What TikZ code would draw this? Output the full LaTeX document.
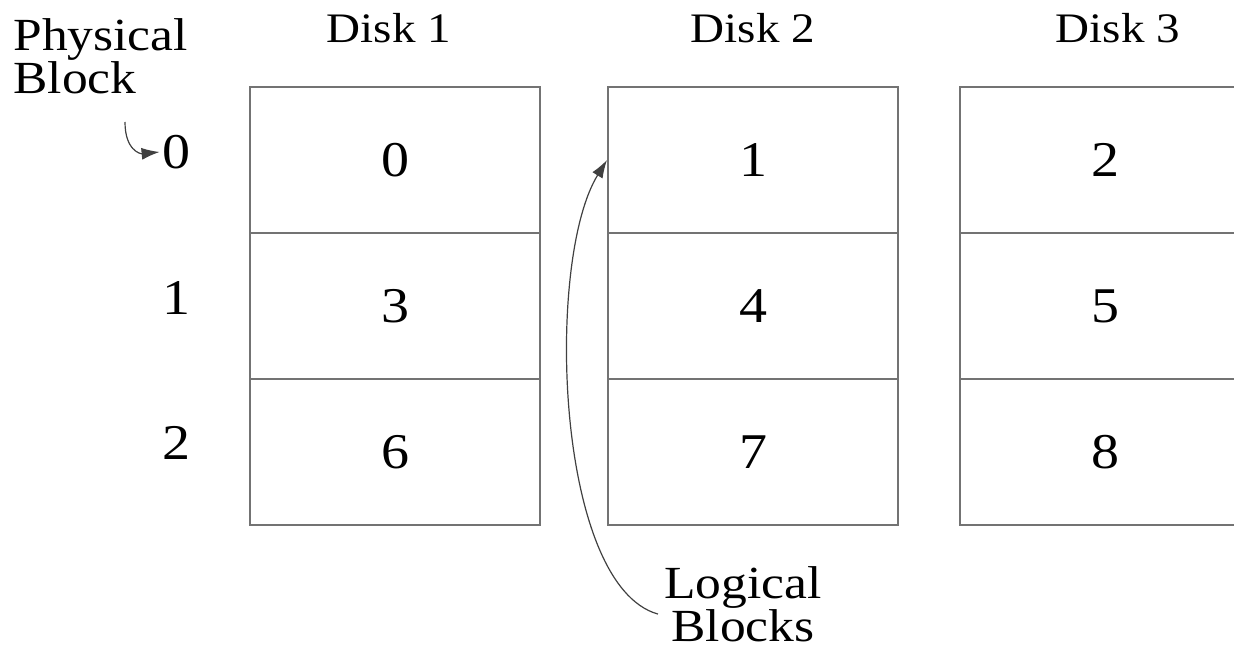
\documentclass[tikz,border=0pt]{standalone}
\usepackage{fontspec}
\setmainfont[FakeStretch=1.12]{Liberation Serif}
\usetikzlibrary{arrows.meta}

\tikzset{
    cell/.style={draw=gray!90!black, line width=1pt, minimum width=145pt, minimum height=73pt, inner sep=0pt, font=\fontsize{25}{30}\selectfont},
    disklabel/.style={anchor=base, font=\fontsize{21}{25}\selectfont},
    rowlabel/.style={inner sep=1pt, font=\fontsize{25}{30}\selectfont},
    note/.style={inner sep=0pt, font=\fontsize{23}{21.5}\selectfont},
    pointer/.style={-{Latex[length=9pt,width=6pt]}, draw=black!75, line width=0.6pt},
}

\begin{document}
\begin{tikzpicture}[x=0.5pt, y=-0.5pt]
        \useasboundingbox (0,0) rectangle (1234,651);
        \clip (0,0) rectangle (1234,651);

        % disks
        \node [disklabel] (disk1) at (389,43) {Disk 1};
        \node [disklabel] (disk2) at (753,43) {Disk 2};
        \node [disklabel] (disk3) at (1118,43) {Disk 3};

        \node [cell] (d1r0) at (395,160) {0};
        \node [cell] (d1r1) at (395,306) {3};
        \node [cell] (d1r2) at (395,452) {6};
        \node [cell] (d2r0) at (753,160) {1};
        \node [cell] (d2r1) at (753,306) {4};
        \node [cell] (d2r2) at (753,452) {7};
        \node [cell] (d3r0) at (1105,160) {2};
        \node [cell] (d3r1) at (1105,306) {5};
        \node [cell] (d3r2) at (1105,452) {8};

        % physical block numbers
        \node [note, anchor=north west, align=left] (phys) at (13,18) {Physical\\Block};
        \node [rowlabel] (r0) at (176,152) {0};
        \node [rowlabel] (r1) at (176,298) {1};
        \node [rowlabel] (r2) at (176,443) {2};

        \node [note, anchor=north, align=center] (logic) at (743,566) {Logical\\Blocks};

        \coordinate (pstart) at (125,122);
        \draw [pointer] (pstart) .. controls (125,150) and (140,154) .. (r0.west);
        \draw [pointer] ([xshift=-3pt,yshift=-5pt]logic.west) .. controls (555,585) and (545,260) .. (d2r0.west);
    \end{tikzpicture}
\end{document}
